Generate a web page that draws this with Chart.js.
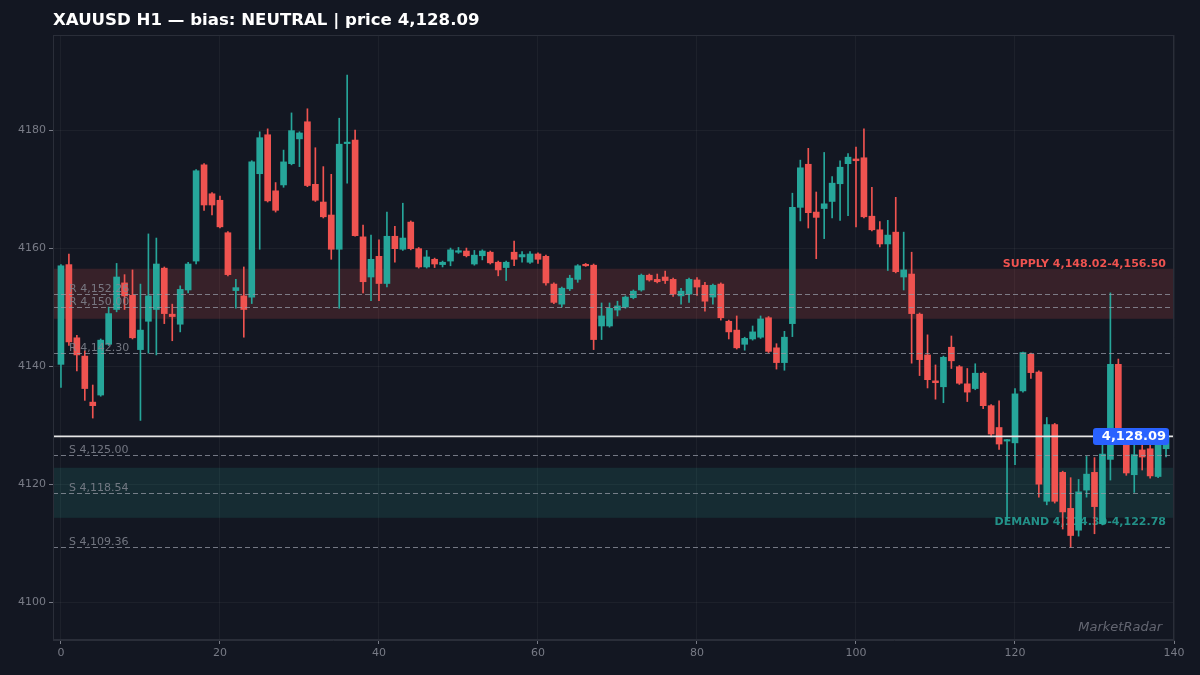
<!DOCTYPE html>
<html>
<head>
<meta charset="utf-8">
<script src="https://cdn.jsdelivr.net/npm/chart.js@4.4.0/dist/chart.umd.min.js"></script>
<style>
  html, body { margin: 0; padding: 0; background: #131722; }
  #wrap { width: 1200px; height: 675px; }
</style>
</head>
<body>
<div id="wrap"><canvas id="grafica" width="1200" height="675"></canvas></div>
<script>
// velas H1, indice 0..139
const opens = [
  4140.3, 4157.2, 4144.8, 4141.7, 4133.9, 4135.1, 4143.7, 4149.6, 4154.1, 4152.0,
  4142.8, 4147.6, 4149.6, 4156.6, 4148.8, 4147.1, 4152.9, 4157.8, 4174.1, 4169.2,
  4168.1, 4162.6, 4152.8, 4151.9, 4151.7, 4172.6, 4179.2, 4169.7, 4170.7, 4174.3,
  4178.5, 4181.4, 4170.8, 4167.8, 4165.6, 4159.8, 4177.7, 4178.3, 4161.9, 4155.1,
  4158.6, 4154.0, 4162.0, 4159.8, 4164.4, 4159.9, 4156.8, 4158.1, 4157.2, 4157.8,
  4159.3, 4159.5, 4157.3, 4158.7, 4159.3, 4157.6, 4156.7, 4159.3, 4158.5, 4157.6,
  4159.0, 4158.6, 4153.9, 4150.5, 4153.1, 4154.7, 4157.2, 4157.1, 4146.8, 4146.8,
  4149.5, 4150.0, 4151.6, 4152.9, 4155.4, 4154.7, 4155.1, 4154.7, 4151.9, 4152.2,
  4154.6, 4153.7, 4151.7, 4153.9, 4147.6, 4146.1, 4143.7, 4144.6, 4144.9, 4148.2,
  4143.1, 4140.6, 4147.2, 4166.9, 4174.2, 4166.1, 4166.7, 4167.9, 4170.9, 4174.3,
  4175.1, 4175.3, 4165.4, 4163.1, 4160.7, 4162.7, 4155.1, 4155.6, 4148.8, 4141.9,
  4137.5, 4136.5, 4143.2, 4139.9, 4137.0, 4136.2, 4138.8, 4133.3, 4129.6, 4127.3,
  4127.0, 4135.8, 4142.0, 4139.0, 4117.1, 4130.1, 4122.0, 4115.9, 4112.2, 4119.0,
  4122.0, 4113.3, 4124.2, 4140.3, 4128.4, 4121.6, 4125.8, 4126.0, 4121.3, 4126.0
];
const highs = [
  4157.2, 4159.0, 4145.2, 4142.6, 4136.8, 4144.6, 4150.0, 4157.4, 4155.5, 4156.3,
  4153.9, 4162.4, 4161.7, 4156.8, 4150.5, 4153.6, 4157.6, 4173.3, 4174.3, 4169.4,
  4168.8, 4162.8, 4154.7, 4156.8, 4174.8, 4179.7, 4180.2, 4171.1, 4176.6, 4182.9,
  4179.7, 4183.6, 4177.0, 4173.8, 4172.5, 4182.0, 4189.3, 4180.0, 4163.9, 4162.2,
  4161.4, 4166.1, 4163.7, 4167.6, 4164.6, 4160.1, 4159.6, 4158.3, 4157.8, 4160.0,
  4160.1, 4160.0, 4159.6, 4159.7, 4159.5, 4157.8, 4157.8, 4161.2, 4159.4, 4159.4,
  4159.2, 4158.8, 4154.1, 4153.4, 4155.4, 4157.2, 4157.4, 4157.3, 4150.7, 4150.7,
  4151.0, 4151.9, 4152.9, 4155.6, 4155.6, 4155.6, 4156.1, 4154.9, 4153.2, 4154.9,
  4155.0, 4154.2, 4153.9, 4154.1, 4147.8, 4148.5, 4144.9, 4146.8, 4148.5, 4148.4,
  4143.8, 4145.9, 4169.3, 4174.9, 4176.9, 4169.5, 4176.2, 4172.1, 4174.8, 4176.0,
  4177.1, 4180.2, 4170.3, 4164.5, 4164.7, 4168.6, 4162.7, 4159.3, 4149.0, 4145.3,
  4140.2, 4141.7, 4145.1, 4140.1, 4139.6, 4140.4, 4139.0, 4133.5, 4134.1, 4127.6,
  4136.2, 4142.4, 4142.2, 4139.2, 4131.3, 4130.3, 4122.2, 4121.1, 4120.8, 4124.7,
  4124.5, 4127.7, 4152.4, 4141.2, 4129.0, 4126.6, 4128.0, 4126.6, 4127.2, 4128.3
];
const lows = [
  4136.4, 4143.5, 4139.2, 4134.2, 4131.2, 4134.9, 4143.5, 4149.2, 4149.6, 4144.6,
  4130.8, 4142.2, 4141.9, 4147.2, 4144.3, 4145.8, 4152.4, 4157.3, 4166.4, 4165.6,
  4163.4, 4155.3, 4149.8, 4144.9, 4150.6, 4159.8, 4167.8, 4166.1, 4170.3, 4174.1,
  4173.8, 4170.4, 4167.9, 4165.1, 4158.1, 4149.8, 4171.0, 4162.0, 4152.4, 4151.1,
  4151.1, 4153.4, 4157.6, 4159.6, 4159.7, 4156.6, 4156.6, 4156.7, 4156.8, 4157.0,
  4159.1, 4158.5, 4157.1, 4158.0, 4157.3, 4155.3, 4154.5, 4157.0, 4157.6, 4157.4,
  4157.4, 4153.7, 4150.6, 4150.0, 4152.8, 4154.2, 4156.9, 4142.8, 4144.5, 4146.6,
  4148.5, 4149.8, 4151.4, 4152.7, 4154.4, 4154.1, 4154.0, 4151.8, 4150.5, 4150.8,
  4152.0, 4149.3, 4150.5, 4147.8, 4144.6, 4142.9, 4142.7, 4144.4, 4144.7, 4142.3,
  4139.5, 4139.3, 4145.0, 4164.6, 4163.4, 4158.2, 4161.6, 4165.1, 4164.7, 4165.5,
  4163.6, 4165.1, 4162.9, 4160.2, 4156.2, 4155.8, 4152.9, 4140.5, 4138.4, 4136.3,
  4134.4, 4133.8, 4139.6, 4136.9, 4134.0, 4136.0, 4132.8, 4128.0, 4125.9, 4114.0,
  4123.3, 4135.6, 4137.9, 4117.8, 4116.5, 4116.8, 4112.4, 4109.3, 4111.2, 4117.8,
  4111.6, 4113.1, 4120.7, 4127.8, 4121.5, 4118.6, 4122.4, 4121.0, 4121.1, 4124.6
];
const closes = [
  4157.0, 4144.1, 4141.9, 4136.2, 4133.3, 4144.4, 4148.9, 4155.1, 4151.9, 4144.8,
  4146.1, 4151.9, 4157.3, 4148.9, 4148.4, 4153.0, 4157.3, 4173.1, 4167.3, 4167.3,
  4163.6, 4155.5, 4153.3, 4149.6, 4174.6, 4178.7, 4168.0, 4166.4, 4174.6, 4179.9,
  4179.5, 4170.6, 4168.1, 4165.3, 4159.8, 4177.6, 4177.9, 4162.1, 4154.3, 4158.1,
  4154.0, 4162.0, 4159.9, 4161.7, 4159.9, 4156.8, 4158.5, 4157.3, 4157.6, 4159.7,
  4159.5, 4158.7, 4158.8, 4159.5, 4157.5, 4156.3, 4157.6, 4158.1, 4158.9, 4159.0,
  4158.1, 4154.1, 4150.8, 4153.2, 4154.9, 4157.0, 4157.0, 4144.5, 4148.5, 4149.8,
  4150.2, 4151.7, 4152.7, 4155.4, 4154.6, 4154.3, 4154.5, 4152.2, 4152.7, 4154.7,
  4153.4, 4151.0, 4153.7, 4148.2, 4145.8, 4143.1, 4144.7, 4145.8, 4148.0, 4142.5,
  4140.6, 4144.9, 4166.9, 4173.6, 4166.0, 4165.2, 4167.5, 4171.0, 4173.7, 4175.4,
  4174.8, 4165.3, 4163.1, 4160.7, 4162.2, 4156.0, 4156.3, 4148.9, 4141.1, 4137.7,
  4137.2, 4141.5, 4140.9, 4137.1, 4135.6, 4138.8, 4133.3, 4128.5, 4126.8, 4127.5,
  4135.3, 4142.3, 4138.9, 4120.0, 4130.1, 4117.1, 4115.3, 4111.3, 4118.7, 4121.7,
  4116.2, 4125.1, 4140.3, 4128.4, 4121.9, 4125.0, 4124.6, 4121.4, 4126.8, 4128.09
];

// niveles
const niveles = [4152.26, 4150.00, 4142.30, 4125.00, 4118.54, 4109.36];
const tiposNivel = ['R', 'R', 'R', 'S', 'S', 'S'];
const zonaOferta = [4148.02, 4156.50];
const zonaDemanda = [4114.30, 4122.78];
const precio = 4128.09;
const xTicks = [0, 20, 40, 60, 80, 100, 120, 140];
const yTicks = [4100, 4120, 4140, 4160, 4180];

const VERDE = '#26a69a';
const ROJO = '#ef5350';
const FONDO = '#131722';

function fmt(v) {
    return Number(v).toLocaleString('en-US', { minimumFractionDigits: 2, maximumFractionDigits: 2 });
}

function colorVela(ctx) {
    const i = ctx.dataIndex;
    return closes[i] >= opens[i] ? VERDE : ROJO;
}

const cuerpos = opens.map((o, i) => ({ x: i, y: [o, closes[i]] }));
const mechas = highs.map((h, i) => ({ x: i, y: [lows[i], h] }));

// zonas y etiquetas detras de las velas, lineas delante
const capas = {
    id: 'capas',
    beforeDraw(chart) {
        const c = chart.ctx;
        c.save();
        c.fillStyle = FONDO;
        c.fillRect(0, 0, chart.width, chart.height);
        c.restore();
    },
    beforeDatasetsDraw(chart) {
        const c = chart.ctx;
        const a = chart.chartArea;
        const y = chart.scales.y;
        c.save();

        let y1 = y.getPixelForValue(zonaOferta[1]);
        let y2 = y.getPixelForValue(zonaOferta[0]);
        c.fillStyle = 'rgba(239,83,80,0.17)';
        c.fillRect(a.left, y1, a.right - a.left, y2 - y1);
        c.font = 'bold 11px "DejaVu Sans"';
        c.textAlign = 'right';
        c.textBaseline = 'alphabetic';
        c.fillStyle = ROJO;
        c.fillText('SUPPLY ' + fmt(zonaOferta[0]) + '-' + fmt(zonaOferta[1]), a.right - 8, y1 - 2);

        y1 = y.getPixelForValue(zonaDemanda[1]);
        y2 = y.getPixelForValue(zonaDemanda[0]);
        c.fillStyle = 'rgba(38,166,154,0.15)';
        c.fillRect(a.left, y1, a.right - a.left, y2 - y1);
        c.fillStyle = 'rgba(38,166,154,0.85)';
        c.textBaseline = 'top';
        c.fillText('DEMAND ' + fmt(zonaDemanda[0]) + '-' + fmt(zonaDemanda[1]), a.right - 8, y2 - 1);
        c.restore();
    },
    afterDatasetsDraw(chart) {
        const c = chart.ctx;
        const a = chart.chartArea;
        const y = chart.scales.y;
        c.save();

        c.setLineDash([5, 3]);
        c.lineWidth = 1;
        c.strokeStyle = 'rgba(150,154,165,0.75)';
        niveles.forEach((n, i) => {
            const py = Math.round(y.getPixelForValue(n)) + 0.5;
            c.beginPath();
            c.moveTo(a.left, py);
            c.lineTo(a.right, py);
            c.stroke();
        });
        c.setLineDash([]);

        c.font = '11px "DejaVu Sans"';
        c.textAlign = 'left';
        c.textBaseline = 'bottom';
        c.fillStyle = 'rgba(130,134,145,0.85)';
        niveles.forEach((n, i) => {
            const py = y.getPixelForValue(n);
            c.fillText(tiposNivel[i] + ' ' + fmt(n), a.left + 16, py + 1);
        });

        // precio actual
        const pp = y.getPixelForValue(precio);
        c.strokeStyle = '#e6e6e6';
        c.lineWidth = 1.6;
        c.beginPath();
        c.moveTo(a.left, pp);
        c.lineTo(a.right, pp);
        c.stroke();

        const w = 76, h = 17;
        const bx = a.right - 81, by = pp - h / 2;
        c.fillStyle = '#2962ff';
        c.beginPath();
        c.roundRect(bx, by, w, h, 3);
        c.fill();
        c.fillStyle = '#ffffff';
        c.font = 'bold 13px "DejaVu Sans"';
        c.textAlign = 'right';
        c.textBaseline = 'middle';
        c.fillText(fmt(precio), a.right - 8, pp + 0.5);

        // marca
        c.font = 'italic 13px "DejaVu Sans"';
        c.fillStyle = 'rgba(120,123,134,0.8)';
        c.textAlign = 'right';
        c.textBaseline = 'alphabetic';
        c.fillText('MarketRadar', a.right - 12, a.bottom - 9);

        c.restore();
    },
    afterDraw(chart) {
        const c = chart.ctx;
        const a = chart.chartArea;
        c.save();
        c.strokeStyle = '#2a2e39';
        c.lineWidth = 1;
        c.strokeRect(a.left + 0.5, a.top + 0.5, a.right - a.left - 1, a.bottom - a.top - 1);
        c.font = 'bold 16.6px "DejaVu Sans"';
        c.fillStyle = '#ffffff';
        c.textAlign = 'left';
        c.textBaseline = 'middle';
        c.fillText('XAUUSD H1 \u2014 bias: NEUTRAL | price ' + fmt(precio), a.left, 21);
        c.restore();
    }
};

new Chart(document.getElementById('grafica'), {
    type: 'bar',
    data: {
        datasets: [{
            label: 'cuerpos',
            data: cuerpos,
            backgroundColor: colorVela,
            borderWidth: 0,
            barThickness: 6,
            minBarLength: 1.5,
            grouped: false
        }, {
            label: 'mechas',
            data: mechas,
            backgroundColor: colorVela,
            borderWidth: 0,
            barThickness: 1,
            grouped: false
        }]
    },
    options: {
        responsive: false,
        animation: false,
        layout: { padding: { top: 35, right: 26, left: 0, bottom: 0 } },
        plugins: {
            legend: { display: false },
            tooltip: { enabled: false }
        },
        scales: {
            x: {
                type: 'linear',
                min: -1,
                max: 140,
                offset: false,
                afterFit: s => { s.height = 35; },
                afterBuildTicks: s => { s.ticks = xTicks.map(v => ({ value: v })); },
                ticks: {
                    color: '#787b86',
                    font: { family: 'DejaVu Sans', size: 11 },
                    padding: 3,
                    callback: v => String(v)
                },
                grid: { offset: false, color: 'rgba(255,255,255,0.045)', tickColor: '#787b86', tickLength: 4 },
                border: { color: '#2a2e39' }
            },
            y: {
                min: 4093.6,
                max: 4196.1,
                afterFit: s => { s.width = 53; },
                afterBuildTicks: s => { s.ticks = yTicks.map(v => ({ value: v })); },
                ticks: {
                    color: '#787b86',
                    font: { family: 'DejaVu Sans', size: 11 },
                    padding: 3,
                    callback: v => String(v)
                },
                grid: { color: 'rgba(255,255,255,0.045)', tickColor: '#787b86', tickLength: 4 },
                border: { color: '#2a2e39' }
            }
        }
    },
    plugins: [capas]
});
</script>
</body>
</html>
